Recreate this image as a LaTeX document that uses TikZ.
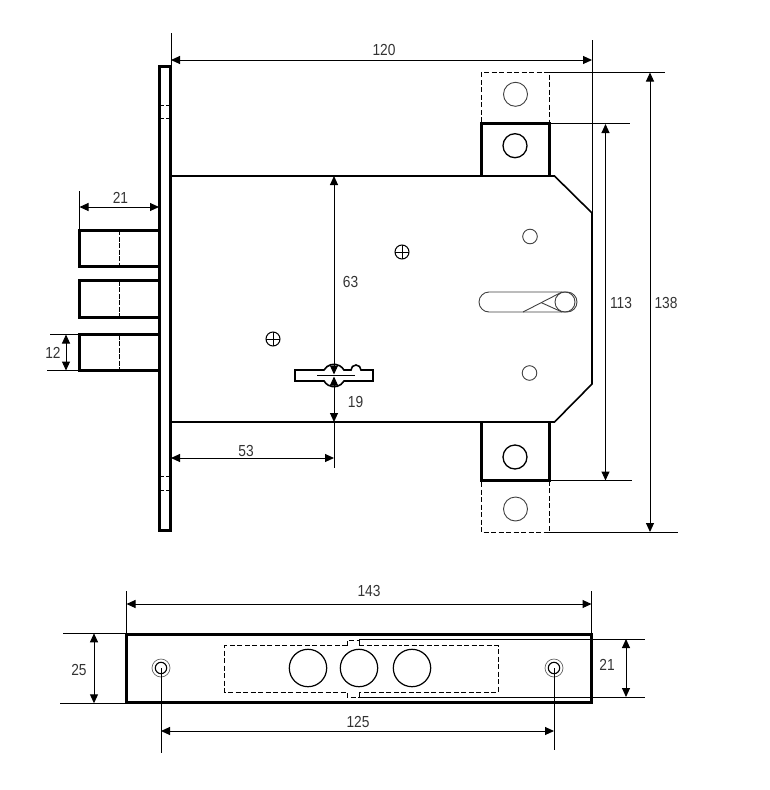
\documentclass[tikz,border=0pt]{standalone}
\usepackage{fontspec}
\setmainfont[FakeStretch=0.86]{Liberation Sans}
\usetikzlibrary{arrows.meta}
\begin{document}
\begin{tikzpicture}[x=1pt,y=-1pt,
  thick line/.style={line width=3pt,line cap=butt,line join=miter},
  mid line/.style={line width=1.6pt,line join=miter},
  thin line/.style={line width=1pt},
  hidden/.style={line width=1pt,dash pattern=on 5pt off 2.5pt},
  hole/.style={line width=0.9pt,black!75},
  dim/.style={line width=1pt,{Triangle[length=9pt,width=8pt]}-{Triangle[length=9pt,width=8pt]}},
  lbl/.style={font=\fontsize{16}{17}\selectfont,inner sep=0pt,text=black!80}]
\useasboundingbox (0,0) rectangle (769,790);
% faceplate
\draw[thick line] (159.5,66.5) rectangle (170.5,530.5);
\foreach \y in {105,118,476,490}
  \draw[thin line] (161,\y) -- (164,\y) (166,\y) -- (169,\y);
% bolts
\foreach \a/\b in {230/266,280.5/317.5,334.5/370.5}{
  \draw[thick line] (159,\a) -- (79.5,\a) -- (79.5,\b) -- (159,\b);
  \draw[line width=0.9pt,dash pattern=on 5pt off 1.5pt] (119.5,\a) -- (119.5,\b);
}
% case
\draw[mid line] (171,176) -- (554.5,176) -- (592,213) -- (592,384) -- (554.5,422) -- (171,422);
\draw[line width=2.6pt] (592,213) -- (592,384);
% strikers
\draw[thick line] (481,176) -- (481,123.5) -- (549.5,123.5) -- (549.5,176);
\draw[thick line] (481,422) -- (481,480.5) -- (549.5,480.5) -- (549.5,422);
\draw[hidden] (481,122) -- (481,72.5) -- (549.5,72.5) -- (549.5,122);
\draw[hidden] (481,482) -- (481,532) -- (549.5,532) -- (549.5,482);
\draw[hole] (515.5,94.3) circle (12);
\draw[line width=1.3pt] (515,145.7) circle (12);
\draw[line width=1.3pt] (515,457) circle (12);
\draw[hole] (515.5,509) circle (12);
% small holes and slot
\draw[hole] (530,236.5) circle (7.3);
\draw[hole] (529.5,373) circle (7.3);
\draw[hole] (489,292) -- (567,292) arc (-90:90:10) -- (489,312) arc (90:270:10);
\draw[hole] (565,302) circle (10);
\draw[hole] (523,312) -- (562,292);
\draw[hole] (541,302.5) -- (562,312);
% screws
\foreach \x/\y in {402/252,273/339}{
  \draw[line width=1pt] (\x,\y) circle (7);
  \draw[line width=1pt] (\x-7,\y) -- (\x+7,\y) (\x,\y-7) -- (\x,\y+7);
}
% key hole
\draw[mid line,fill=white] (295,370) -- (324,370) arc (-150:-30:11.5) -- (351,370)
  arc (180:360:5) -- (373,370) -- (373,381) -- (344,381) arc (30:150:11.5) -- (295,381) -- cycle;
\draw[thin line] (317,375.5) -- (355,375.5);
% extension lines
\draw[thin line] (171,33) -- (171,66);
\draw[thin line] (592,40) -- (592,213);
\draw[thin line] (549,72.5) -- (665,72.5);
\draw[thin line] (549,123.5) -- (630,123.5);
\draw[thin line] (549,480.5) -- (632,480.5);
\draw[thin line] (549,532) -- (678,532);
\draw[thin line] (79,191) -- (79,229);
\draw[thin line] (50,334.5) -- (79,334.5);
\draw[thin line] (47,370.5) -- (79,370.5);
\draw[thin line] (334,422) -- (334,468);
% dimensions
\draw[dim] (171,60) -- (592,60);
\draw[dim] (79.5,207) -- (159,207);
\draw[dim] (66,334.5) -- (66,370.5);
\draw[dim] (605.5,124) -- (605.5,480.5);
\draw[dim] (650,72.5) -- (650,532);
\draw[dim] (171,458) -- (334,458);
\draw[dim] (334,176) -- (334,374.5);
\draw[dim] (334,376.5) -- (334,422);
\node[lbl] (d120) at (384,49.5) {120};
\node[lbl] (d21a) at (120.5,197.5) {21};
\node[lbl] (d12) at (53,353) {12};
\node[lbl] (d63) at (350.5,281.5) {63};
\node[lbl] (d19) at (355.5,401.5) {19};
\node[lbl] (d53) at (246,450.5) {53};
\node[lbl] (d113) at (621,303) {113};
\node[lbl] (d138) at (666,303) {138};
% bottom view
\draw[thick line] (126.5,634.5) rectangle (591.5,702.5);
\draw[hidden] (347,645.5) -- (224.5,645.5) -- (224.5,692) -- (347,692) -- (347,697) -- (359,697);
\draw[hidden] (347,645.5) -- (347,640) -- (359,640);
\draw[hidden] (359,645.5) -- (498,645.5) -- (498,692) -- (359,692);
\draw[thin line] (359,639) -- (359,645.5) (359,692) -- (359,697);
\draw[line width=1.2pt] (308,668) circle (18.7);
\draw[line width=1.2pt] (359,668) circle (18.7);
\draw[line width=1.2pt] (412,668) circle (18.7);
\foreach \x in {161,554}{
  \draw[line width=0.7pt,black!60] (\x,668) circle (9);
  \draw[line width=1.1pt] (\x,668) circle (5.7);
}
% bottom extension lines
\draw[thin line] (126.5,591) -- (126.5,634);
\draw[thin line] (591.5,591) -- (591.5,634);
\draw[thin line] (63,633.3) -- (126,633.3);
\draw[thin line] (60,703.3) -- (126,703.3);
\draw[thin line] (359,639) -- (645,639);
\draw[thin line] (359,697) -- (645,697);
\draw[thin line] (161,668) -- (161,753);
\draw[thin line] (554,668) -- (554,750);
% bottom dimensions
\draw[dim] (126.5,604) -- (591.5,604);
\draw[dim] (94,633.3) -- (94,703.3);
\draw[dim] (626,639) -- (626,697);
\draw[dim] (161,731) -- (554,731);
\node[lbl] (d143) at (369,590.5) {143};
\node[lbl] (d25) at (79,670) {25};
\node[lbl] (d21b) at (607,664.5) {21};
\node[lbl] (d125) at (358,721.5) {125};
\end{tikzpicture}
\end{document}
